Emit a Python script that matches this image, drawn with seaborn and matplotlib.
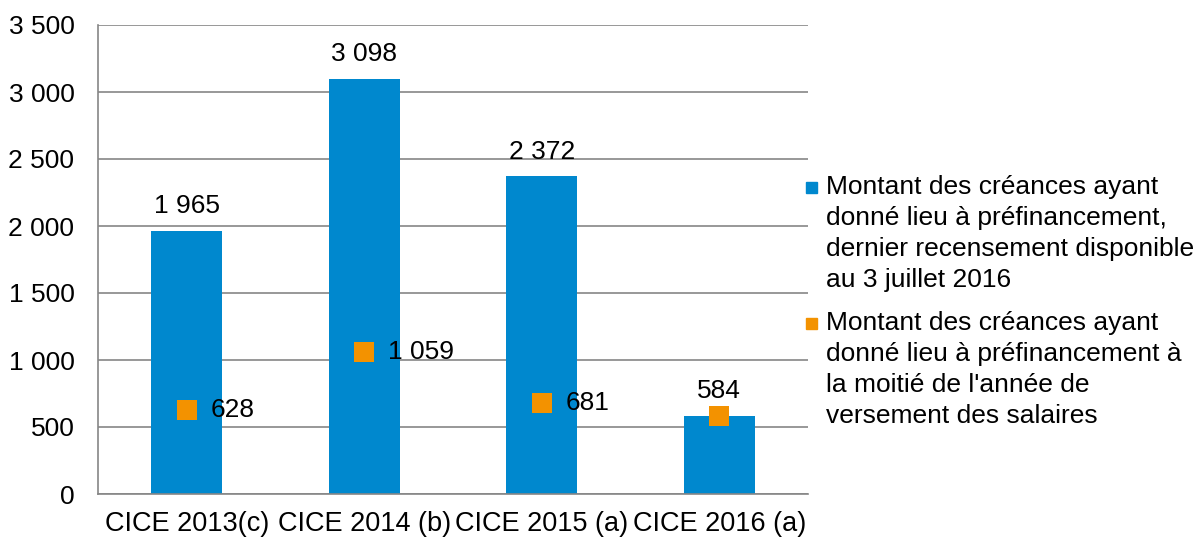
import numpy as np
import pandas as pd
import matplotlib
matplotlib.use("Agg")
import matplotlib.pyplot as plt
import seaborn as sns
from matplotlib.ticker import FuncFormatter, FixedLocator
from matplotlib.patches import Rectangle

# données
categories = ["CICE 2013(c)", "CICE 2014 (b)", "CICE 2015 (a)", "CICE 2016 (a)"]
creances_total = [1965, 3098, 2372, 584]
creances_mi_annee = [628, 1059, 681, 584]
labels_mi_annee = ["628", "1 059", "681", ""]

legend_labels = [
    "Montant des créances ayant\ndonné lieu à préfinancement,\ndernier recensement disponible\nau 3 juillet 2016",
    "Montant des créances ayant\ndonné lieu à préfinancement à\nla moitié de l'année de\nversement des salaires",
]

BLUE = "#0088CE"
ORANGE = "#F39200"
GREY = "#868686"
FS = 19


def fmt_fr(v, pos=None):
    return f"{int(round(v)):,}".replace(",", " ")


sns.set_style("white")
plt.rcParams["font.family"] = ["Liberation Sans", "DejaVu Sans"]
plt.rcParams["font.size"] = FS
plt.rcParams["text.color"] = "black"
plt.rcParams["xtick.color"] = "black"
plt.rcParams["ytick.color"] = "black"

df = pd.DataFrame({"cat": categories, "total": creances_total, "mi": creances_mi_annee})

fig = plt.figure(figsize=(12, 5.38), dpi=100)
ax = fig.add_axes([98 / 1200, 1 - 494 / 538, 710 / 1200, 469 / 538])

sns.barplot(data=df, x="cat", y="total", color=BLUE, width=0.4, saturation=1,
            linewidth=0, ax=ax)
sns.stripplot(data=df, x="cat", y="mi", color=ORANGE, marker="s", size=14.5,
              jitter=False, linewidth=0, ax=ax, zorder=4)

ax.set_xlim(-0.5, 3.5)
ax.set_ylim(0, 3500)
ax.set_yticks(np.arange(0, 3501, 500))
ax.yaxis.set_major_formatter(FuncFormatter(fmt_fr))
ax.set_xlabel("")
ax.set_ylabel("")

ax.grid(axis="y", color=GREY, linewidth=1.2)
ax.set_axisbelow(True)
for side in ["top", "right"]:
    ax.spines[side].set_visible(False)
for side in ["left", "bottom"]:
    ax.spines[side].set_color(GREY)
    ax.spines[side].set_linewidth(1.2)

ax.tick_params(axis="y", length=5, color=GREY, labelcolor="black", width=1.2, pad=12, labelsize=FS)
ax.tick_params(axis="x", which="major", length=0, pad=12, labelsize=19.5, labelcolor="black")
ax.xaxis.set_minor_locator(FixedLocator([-0.5, 0.5, 1.5, 2.5, 3.5]))
ax.tick_params(axis="x", which="minor", length=6, color=GREY, width=1.2)

# étiquettes des barres
ax.bar_label(ax.containers[0], labels=[fmt_fr(v) for v in creances_total],
             padding=9, fontsize=FS, color="black")

# étiquettes des marqueurs
for i, (v, lab) in enumerate(zip(creances_mi_annee, labels_mi_annee)):
    if lab:
        ax.annotate(lab, (i, v), xytext=(24, 0), textcoords="offset pixels",
                    ha="left", va="center", fontsize=FS, color="black")

# légende à droite
tops = [187, 323]
for col, lab, ytop in zip([BLUE, ORANGE], legend_labels, tops):
    fig.patches.append(Rectangle((806 / 1200, 1 - (ytop + 6) / 538), 11 / 1200, 11 / 538,
                                 transform=fig.transFigure, color=col, figure=fig))
    fig.text(826 / 1200, 1 - (ytop - 12) / 538, lab, ha="left", va="top",
             fontsize=FS, linespacing=1.36, color="black")

fig.savefig("out.png", dpi=100)
